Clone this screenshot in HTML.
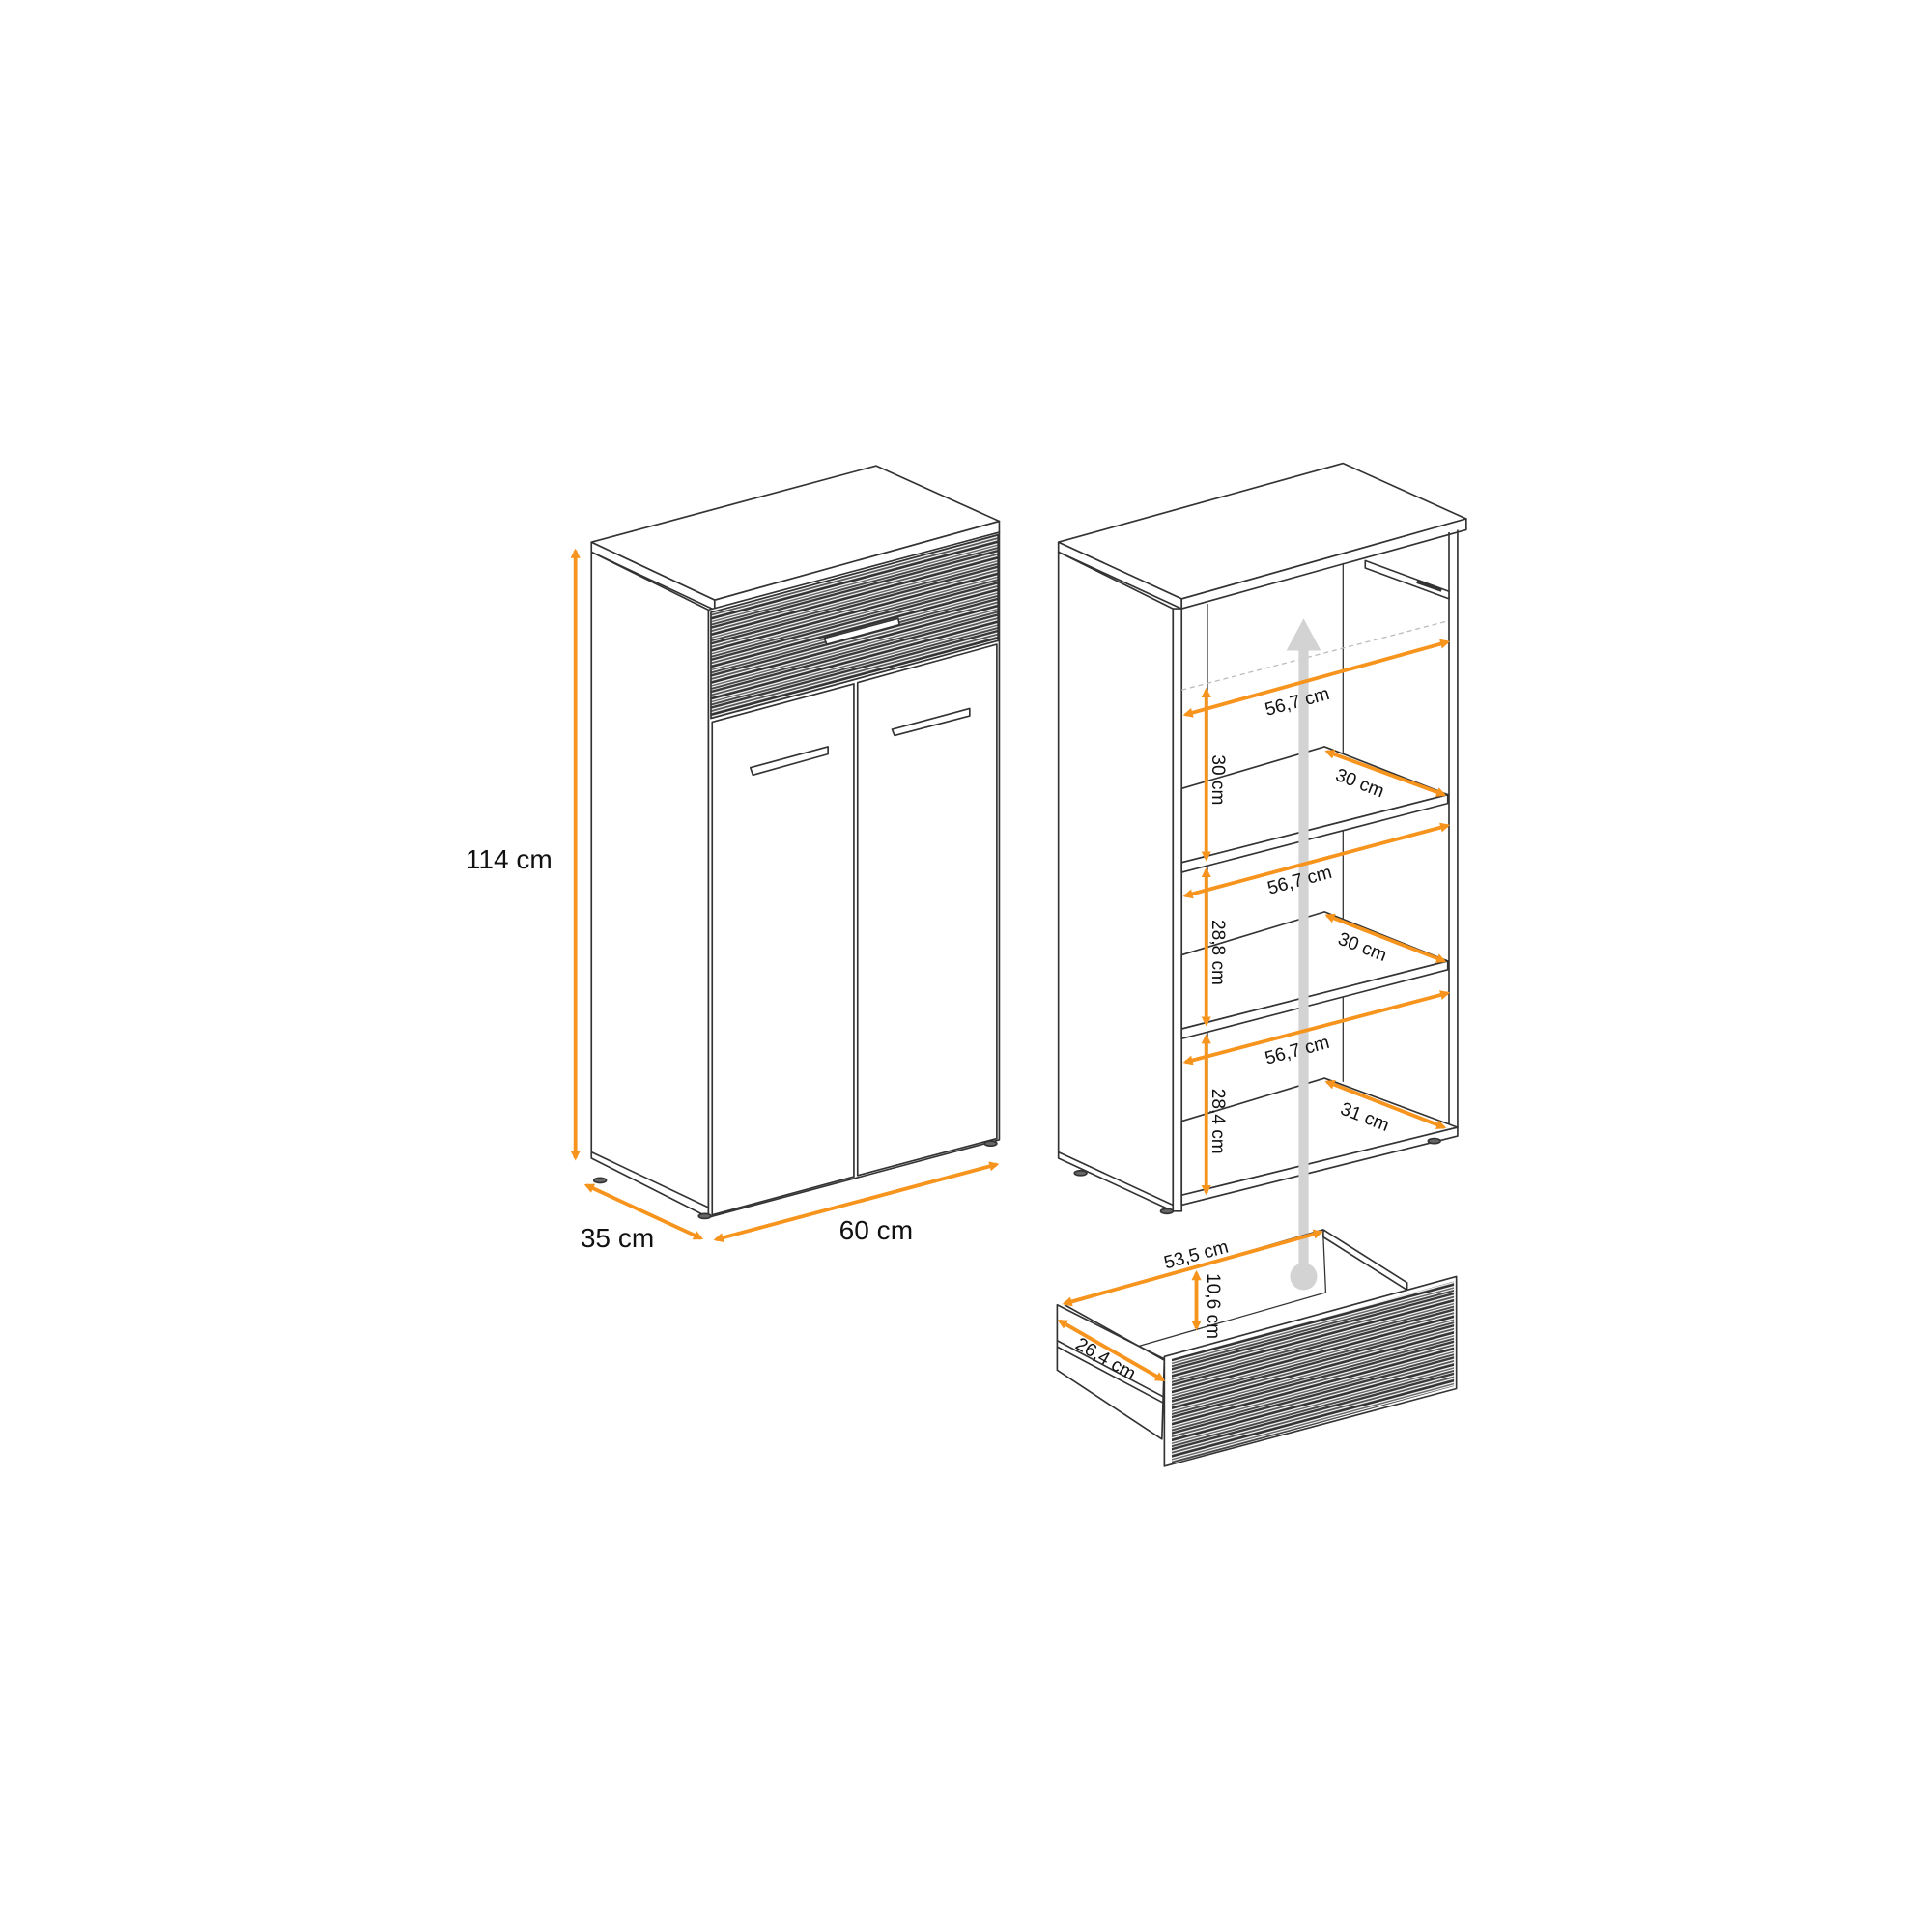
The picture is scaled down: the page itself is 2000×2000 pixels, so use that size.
<!DOCTYPE html>
<html><head><meta charset="utf-8"><style>html,body{margin:0;padding:0;background:#fff}svg{display:block}</style></head>
<body>
<svg width="2000" height="2000" viewBox="0 0 1568 1568" xmlns="http://www.w3.org/2000/svg" font-family="Liberation Sans, Arial, sans-serif">
<defs>
<pattern id="st" width="400" height="13" patternUnits="userSpaceOnUse" patternTransform="skewY(-15)">
<rect width="400" height="13" fill="#fff"/>
<rect y="0" width="400" height="2" fill="#3a3a3a"/>
<rect y="3" width="400" height="1.5" fill="#555"/>
<rect y="5.5" width="400" height="2.2" fill="#333"/>
<rect y="8.7" width="400" height="1.2" fill="#666"/>
<rect y="10.8" width="400" height="1.6" fill="#444"/>
</pattern>
<marker id="a" markerWidth="8" markerHeight="8" refX="6" refY="4" orient="auto-start-reverse" markerUnits="userSpaceOnUse"><path d="M0,0 L8,4 L0,8 z" fill="#f7941d"/></marker>
</defs>
<g fill="#fff" stroke="#333" stroke-width="1.3" stroke-linejoin="round">
<!-- LEFT CABINET -->
<polygon points="480,448 575,495 575,988 480,940"/>
<polygon points="480,440 711,378 811,423 580,487"/>
<polygon points="480,440 580,487 580,495 480,448"/>
<polygon points="580,487 811,423 811,432 580,495"/>
<polygon points="575,495 811,432 811,925 575,988"/>
<polygon points="577,497 810,434 810,520 577,583" fill="url(#st)"/>
<polygon points="578,586 693,555 693,955 578,986"/>
<polygon points="696,554 809,523 809,924 696,954"/>
<polygon points="669,518 729,502 730,507 671,523" fill="#fff"/>
<polygon points="609,623 672,606 672,612 611,629"/>
<polygon points="724,592 787,575 787,581 726,597"/>
<line x1="480" y1="935" x2="575" y2="980"/>
<ellipse cx="487" cy="958" rx="5" ry="2" fill="#666"/>
<ellipse cx="572" cy="987" rx="5" ry="2" fill="#666"/>
<ellipse cx="804" cy="928" rx="5" ry="2" fill="#666"/>
<!-- RIGHT CABINET -->
<polygon points="859,448 952,494 952,983 859,940"/>
<line x1="859" y1="935" x2="952" y2="978"/>
<polygon points="859,440 1090,376 1190,421 959,486"/>
<polygon points="859,440 959,486 959,494 859,448"/>
<polygon points="959,486 1190,421 1190,430 959,494"/>
<polygon points="952,494 959,494 959,983 952,983"/>
<line x1="1183" y1="430" x2="1183" y2="915"/>
<line x1="1176" y1="432" x2="1176" y2="915"/>
<line x1="980" y1="490" x2="980" y2="968" stroke-width="1"/>
<line x1="1090" y1="457" x2="1090" y2="878" stroke-width="1"/>
<polygon points="1108,455 1176,480 1176,486 1108,461" fill="#fff"/>
<line x1="1150" y1="472" x2="1170" y2="479" stroke-width="3"/>
<!-- shelves -->
<polygon points="959,640 1075,606 1175,645 959,700"/>
<polygon points="959,700 1175,645 1175,652 959,708"/>
<polygon points="959,775 1075,740 1175,780 959,835"/>
<polygon points="959,835 1175,780 1175,787 959,843"/>
<polygon points="959,910 1075,875 1183,915 959,970"/>
<polygon points="959,970 1183,915 1183,922 959,978"/>
<ellipse cx="877" cy="952" rx="5" ry="2" fill="#666"/>
<ellipse cx="947" cy="983" rx="5" ry="2" fill="#666"/>
<ellipse cx="1164" cy="926" rx="5" ry="2" fill="#666"/>
</g>
<line x1="959" y1="560" x2="1175" y2="504" stroke="#bbb" stroke-width="1" stroke-dasharray="4,3"/>
<!-- gray arrow -->
<line x1="1058" y1="1036" x2="1058" y2="525" stroke="#d3d3d3" stroke-width="8"/>
<polygon points="1044,528 1058,502 1072,528" fill="#d3d3d3"/>
<circle cx="1058" cy="1036" r="11" fill="#d3d3d3"/>
<!-- DRAWER -->
<g fill="#fff" stroke="#333" stroke-width="1.3" stroke-linejoin="round">
<polygon points="1074,998 1142,1041 1142,1047 1074,1004"/>
<line x1="1074" y1="1004" x2="1076" y2="1049" stroke-width="1"/>
<line x1="919" y1="1094" x2="1076" y2="1049" stroke-width="1"/>
<polygon points="858,1059 945,1103 943,1168 858,1112"/>
<line x1="864" y1="1059" x2="945" y2="1104"/>
<line x1="864" y1="1059" x2="1074" y2="998"/>
<line x1="858" y1="1088" x2="945" y2="1134"/>
<line x1="858" y1="1093" x2="945" y2="1139"/>
<polygon points="945,1101 1182,1036 1182,1127 945,1190" fill="#fff"/>
<polygon points="951,1103 1180,1040 1180,1125 951,1188" fill="url(#st)" stroke="none"/>
</g>
<!-- ORANGE DIMENSIONS -->
<g stroke="#f7941d" stroke-width="3" marker-start="url(#a)" marker-end="url(#a)">
<line x1="467" y1="447" x2="467" y2="940"/>
<line x1="476" y1="962" x2="569" y2="1005"/>
<line x1="581" y1="1006" x2="809" y2="945"/>
<line x1="962" y1="580" x2="1175" y2="521"/>
<line x1="979" y1="560" x2="979" y2="697"/>
<line x1="1077" y1="610" x2="1172" y2="645"/>
<line x1="962" y1="727" x2="1175" y2="670"/>
<line x1="979" y1="706" x2="979" y2="831"/>
<line x1="1077" y1="743" x2="1172" y2="780"/>
<line x1="962" y1="862" x2="1175" y2="806"/>
<line x1="979" y1="841" x2="979" y2="968"/>
<line x1="1077" y1="878" x2="1172" y2="915"/>
<line x1="864" y1="1058" x2="1072" y2="1000"/>
<line x1="971" y1="1033" x2="971" y2="1078"/>
<line x1="860" y1="1072" x2="944" y2="1120"/>
</g>
<g font-size="22" fill="#111">
<text x="413" y="705" text-anchor="middle">114 cm</text>
<text x="501" y="1012" text-anchor="middle">35 cm</text>
<text x="711" y="1006" text-anchor="middle">60 cm</text>
</g>
<g font-size="15" fill="#111" text-anchor="middle">
<text transform="translate(1054,574) rotate(-15)">56,7 cm</text>
<text transform="translate(1056,719) rotate(-15)">56,7 cm</text>
<text transform="translate(1054,857) rotate(-15)">56,7 cm</text>
<text transform="translate(984,633) rotate(90)">30 cm</text>
<text transform="translate(984,773) rotate(90)">28,8 cm</text>
<text transform="translate(984,910) rotate(90)">28,4 cm</text>
<text transform="translate(1102,640) rotate(21)">30 cm</text>
<text transform="translate(1104,773) rotate(21)">30 cm</text>
<text transform="translate(1106,911) rotate(21)">31 cm</text>
<text transform="translate(972,1023) rotate(-15)">53,5 cm</text>
<text transform="translate(980,1060) rotate(90)">10,6 cm</text>
<text transform="translate(895,1107) rotate(30)">26,4 cm</text>
</g>
</svg>
</body></html>
